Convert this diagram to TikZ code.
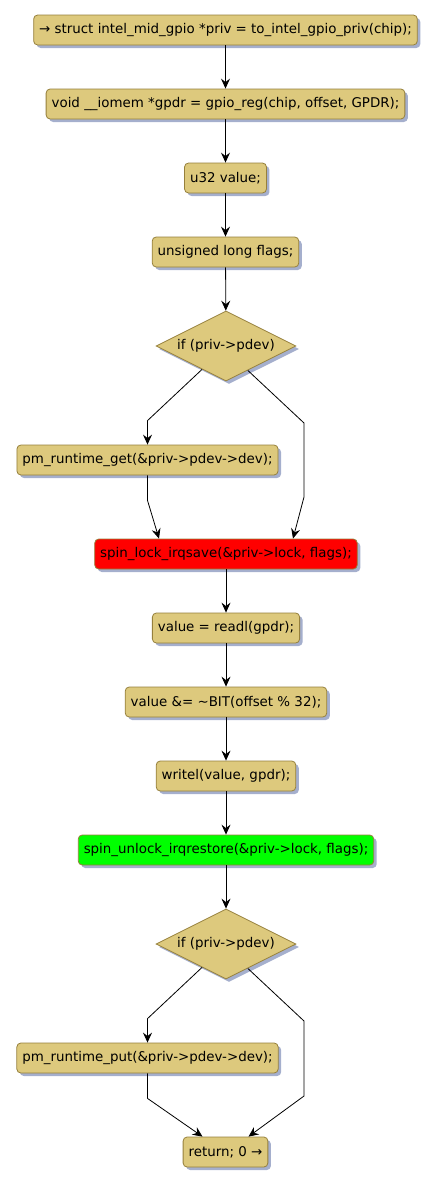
\documentclass[tikz,border=0pt]{standalone}
\usepackage{fontspec}
\setmainfont{DejaVu Sans}
\usetikzlibrary{shapes.geometric,arrows.meta,shadows,calc}
\definecolor{boxfill}{RGB}{221,201,125}
\definecolor{boxline}{RGB}{150,128,60}
\definecolor{shadowc}{RGB}{165,175,205}
\definecolor{redfill}{RGB}{255,0,0}
\definecolor{greenfill}{RGB}{0,255,0}
\tikzset{
  act/.style={draw=boxline, fill=boxfill, line width=0.8pt, rounded corners=4pt,
    minimum height=30pt, inner xsep=5.5pt, inner ysep=0pt, text=black,
    font=\fontsize{13.4pt}{15pt}\selectfont,
    drop shadow={shadow xshift=3pt, shadow yshift=-3pt, fill=shadowc, opacity=1}},
  cond/.style={draw=boxline, fill=boxfill, line width=0.8pt, shape=diamond,
    minimum width=140pt, minimum height=70pt, inner sep=0pt, aspect=2,
    font=\fontsize{13.4pt}{15pt}\selectfont,
    drop shadow={shadow xshift=3pt, shadow yshift=-3pt, fill=shadowc, opacity=1}},
  flow/.style={draw=black, line width=0.8pt, -{Stealth[length=10pt,width=9pt,inset=3.5pt]}},
}
\begin{document}
\begin{tikzpicture}[x=1pt,y=-1pt]
\useasboundingbox (0,0) rectangle (436,1186);
\node[act] (n1) at (225.5,30) {→ struct intel\_mid\_gpio *priv = to\_intel\_gpio\_priv(chip);};
\node[act] (n2) at (225.5,104) {void \_\_iomem *gpdr = gpio\_reg(chip, offset, GPDR);};
\node[act] (n3) at (225.5,178) {u32 value;};
\node[act] (n4) at (225.5,252) {unsigned long flags;};
\node[cond] (d1) at (226,346) {if (priv->pdev)};
\node[act] (get) at (147.5,460) {pm\_runtime\_get(\&priv->pdev->dev);};
\node[act, fill=redfill] (lock) at (226,554) {spin\_lock\_irqsave(\&priv->lock, flags);};
\node[act] (n8) at (226,628) {value = readl(gpdr);};
\node[act] (n9) at (226,702) {value \&= \textasciitilde BIT(offset \% 32);};
\node[act] (n10) at (226,776) {writel(value, gpdr);};
\node[act, fill=greenfill] (unlock) at (226,850) {spin\_unlock\_irqrestore(\&priv->lock, flags);};
\node[cond] (d2) at (226,944) {if (priv->pdev)};
\node[act] (put) at (147.5,1058) {pm\_runtime\_put(\&priv->pdev->dev);};
\node[act] (ret) at (225.5,1152) {return; 0 →};

\draw[flow] (n1) -- (n2);
\draw[flow] (n2) -- (n3);
\draw[flow] (n3) -- (n4);
\draw[flow] (n4) -- (d1);
\coordinate (d1l) at ($(d1.south)!0.34!(d1.west)$);
\coordinate (d1r) at ($(d1.south)!0.31!(d1.east)$);
\coordinate (r1a) at (304,423);
\coordinate (r1b) at (304,497);
\draw[flow] (d1l) -- ([yshift=24pt]get.north) -- (get.north);
\draw[flow] (d1r) -- (r1a) -- (r1b) -- ([xshift=67pt]lock.north);
\draw[flow] (get.south) -- ([yshift=-25pt]get.south) -- ([xshift=-67pt]lock.north);
\draw[flow] (lock) -- (n8);
\draw[flow] (n8) -- (n9);
\draw[flow] (n9) -- (n10);
\draw[flow] (n10) -- (unlock);
\draw[flow] (unlock) -- (d2);
\coordinate (d2l) at ($(d2.south)!0.34!(d2.west)$);
\coordinate (d2r) at ($(d2.south)!0.31!(d2.east)$);
\coordinate (r2a) at (304,1021);
\coordinate (r2b) at (304,1096);
\draw[flow] (d2l) -- ([yshift=24pt]put.north) -- (put.north);
\draw[flow] (d2r) -- (r2a) -- (r2b) -- ([xshift=23pt]ret.north);
\draw[flow] (put.south) -- ([yshift=-25pt]put.south) -- ([xshift=-23pt]ret.north);
\end{tikzpicture}
\end{document}
